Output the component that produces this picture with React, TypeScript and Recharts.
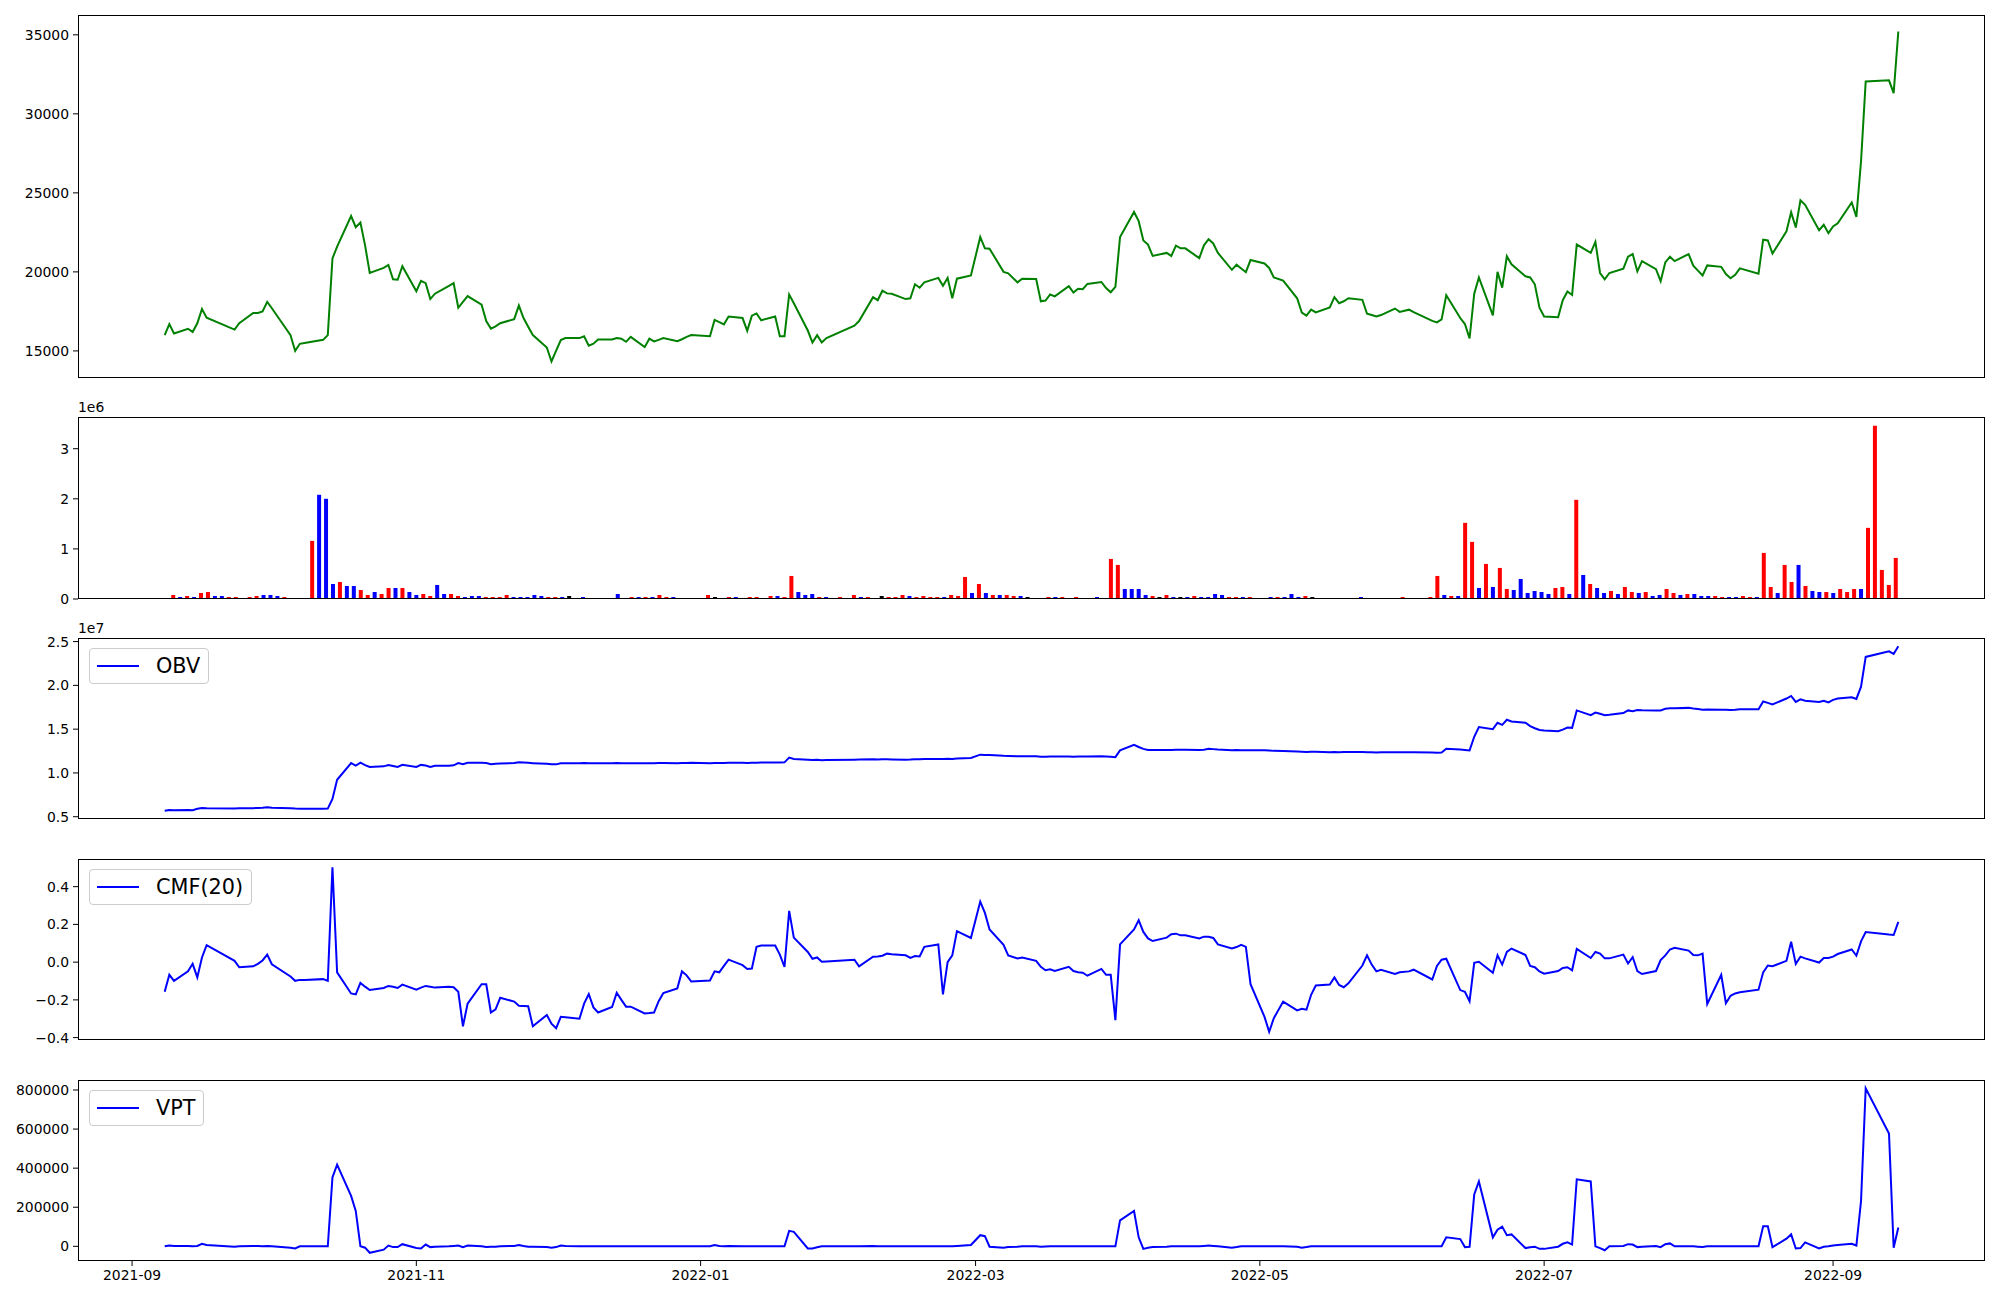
import React from 'react';
import { LineChart, Line, BarChart, Bar, Cell, XAxis, YAxis } from 'recharts';

const FONT = '"DejaVu Sans", Verdana, sans-serif';

// trading days per month
const tradingDays: [string, number[]][] = [
  ['2021-09', [8, 9, 10, 13, 14, 15, 16, 17, 23, 24, 27, 28, 29, 30]],
  ['2021-10', [1, 5, 6, 7, 8, 12, 13, 14, 15, 18, 19, 20, 21, 22, 25, 26, 27, 28, 29]],
  ['2021-11', [1, 2, 3, 4, 5, 8, 9, 10, 11, 12, 15, 16, 17, 18, 19, 22, 23, 24, 25, 26, 29, 30]],
  ['2021-12', [1, 2, 3, 6, 7, 8, 9, 10, 13, 14, 15, 16, 17, 20, 21, 22, 23, 24, 27, 28, 29, 30]],
  ['2022-01', [3, 4, 5, 6, 7, 10, 11, 12, 13, 14, 17, 18, 19, 20, 21, 24, 25, 26, 27, 28]],
  ['2022-02', [3, 4, 7, 8, 9, 10, 11, 14, 15, 16, 17, 18, 21, 22, 23, 24, 25, 28]],
  ['2022-03', [2, 3, 4, 7, 8, 10, 11, 14, 15, 16, 17, 18, 21, 22, 23, 24, 25, 28, 29, 30, 31]],
  ['2022-04', [1, 4, 5, 6, 7, 8, 11, 12, 13, 14, 15, 18, 19, 20, 21, 22, 25, 26, 27, 28, 29]],
  ['2022-05', [2, 3, 4, 6, 9, 10, 11, 12, 13, 16, 17, 18, 19, 20, 23, 24, 25, 26, 27, 30, 31]],
  ['2022-06', [2, 3, 7, 8, 9, 10, 13, 14, 15, 16, 17, 20, 21, 22, 23, 24, 27, 28, 29, 30]],
  ['2022-07', [1, 4, 5, 6, 7, 8, 11, 12, 13, 14, 15, 18, 19, 20, 21, 22, 25, 26, 27, 28, 29]],
  ['2022-08', [1, 2, 3, 4, 5, 8, 9, 10, 11, 12, 16, 17, 18, 19, 22, 23, 24, 25, 26, 29, 30, 31]],
  ['2022-09', [1, 2, 5, 6, 7, 8, 13, 14, 15]],
];

const dates = tradingDays.flatMap(([m, days]) => days.map((d) => `${m}-${String(d).padStart(2, '0')}`));

const close = [
  16000, 16700, 16100, 16400, 16200, 16750, 17650, 17100, 16350, 16750, 17400, 17400, 17500, 18100,
  17700, 16000, 15000, 15450, 15500, 15700, 16000, 20850, 21600, 23530, 22830, 23120, 21680, 19930, 20250, 20440, 19530, 19500, 20360,
  18780, 19430, 19290, 18280, 18620, 19120, 19290, 17730, 18100, 18470, 17920, 16890, 16410, 16550, 16750, 17010, 17870, 17080, 16530, 16000, 15215, 14330,
  15020, 15690, 15810, 15810, 15930, 15335, 15455, 15720, 15720, 15810, 15770, 15575, 15885, 15240, 15770, 15600, 15700, 15810, 15620, 15740, 15890, 16000,
  15930, 16960, 16820, 16680, 17180, 17080, 16270, 17230, 17370, 16940, 17180, 15930, 15930, 18570, 18020, 16290, 15530, 16000, 15530, 15810,
  16600, 16890, 18400, 18210, 18810, 18640, 18620, 18280, 18330, 19215, 19000, 19335, 19620, 19120, 19620, 18330, 19570, 19770,
  22210, 21490, 21470, 20000, 19910, 19335, 19570, 19550, 18140, 18190, 18570, 18450, 19100, 18690, 18930, 18900, 19240, 19360, 18980, 18710, 19050,
  22210, 23790, 23210, 21990, 21730, 21010, 21200, 21010, 21660, 21490, 21490, 20870, 21680, 22070, 21800, 21200, 20130, 20460, 20220, 19980, 20750,
  20530, 20250, 19650, 19450, 18330, 17420, 17230, 17610, 17440, 17750, 18400, 18020, 18140, 18330, 18230, 17350, 17270, 17180, 17270, 17680, 17470,
  17610, 17450, 16900, 16800, 16990, 18520, 17080, 16700, 15790, 18620, 19650, 17250, 20000, 19000, 20990, 20480, 19720, 19650, 19215, 17730,
  17180, 17130, 18210, 18760, 18540, 21730, 21200, 21900, 19930, 19530, 19930, 20200, 20960, 21130, 20030, 20680, 20170, 19410, 20600, 20960, 20680,
  21130, 20390, 20080, 19770, 20410, 20320, 19860, 19600, 19810, 20220, 19890, 22040, 21990, 21160, 22570, 23770, 22810, 24530, 24240, 22640, 22980, 22450,
  22880, 23070, 24390, 23480, 27000, 32050, 32120, 31310, 35210,
];

// volume in millions of shares
const volumeM = [
  0.02, 0.08, 0.04, 0.06, 0.04, 0.12, 0.14, 0.06, 0.06, 0.04, 0.04, 0.02, 0.04, 0.06,
  0.08, 0.08, 0.06, 0.04, 0.02, 0.02, 0.02, 1.16, 2.08, 2.0, 0.3, 0.34, 0.26, 0.26, 0.18, 0.08, 0.14, 0.1, 0.22,
  0.22, 0.22, 0.14, 0.08, 0.1, 0.06, 0.28, 0.1, 0.1, 0.06, 0.04, 0.06, 0.06, 0.04, 0.04, 0.04, 0.08, 0.04, 0.04, 0.04, 0.08, 0.06,
  0.04, 0.04, 0.04, 0.06, 0.02, 0.04, 0.02, 0.02, 0.02, 0.02, 0.1, 0.02, 0.04, 0.04, 0.04, 0.04, 0.08, 0.04, 0.04, 0.02, 0.02, 0.02,
  0.02, 0.08, 0.04, 0.02, 0.04, 0.04, 0.02, 0.04, 0.04, 0.02, 0.06, 0.06, 0.04, 0.46, 0.14, 0.08, 0.1, 0.04, 0.04, 0.02,
  0.04, 0.02, 0.08, 0.04, 0.04, 0.02, 0.06, 0.04, 0.04, 0.08, 0.06, 0.04, 0.06, 0.04, 0.04, 0.04, 0.08, 0.06,
  0.44, 0.12, 0.3, 0.12, 0.08, 0.08, 0.08, 0.06, 0.06, 0.04, 0.02, 0.02, 0.04, 0.04, 0.04, 0.02, 0.04, 0.02, 0.02, 0.04, 0.02,
  0.8, 0.68, 0.2, 0.2, 0.2, 0.08, 0.06, 0.04, 0.08, 0.04, 0.04, 0.04, 0.06, 0.04, 0.04, 0.1, 0.08, 0.04, 0.04, 0.04, 0.04,
  0.02, 0.02, 0.04, 0.04, 0.04, 0.1, 0.04, 0.06, 0.04, 0.02, 0.02, 0.02, 0.02, 0.02, 0.02, 0.04, 0.02, 0.02, 0.02, 0.02, 0.02,
  0.04, 0.02, 0.02, 0.02, 0.04, 0.46, 0.08, 0.06, 0.06, 1.52, 1.14, 0.22, 0.7, 0.24, 0.62, 0.2, 0.18, 0.4, 0.12, 0.16,
  0.14, 0.1, 0.22, 0.24, 0.1, 1.98, 0.48, 0.3, 0.22, 0.12, 0.16, 0.1, 0.24, 0.14, 0.12, 0.14, 0.06, 0.08, 0.2, 0.12, 0.08,
  0.1, 0.1, 0.06, 0.06, 0.06, 0.04, 0.04, 0.04, 0.06, 0.04, 0.04, 0.92, 0.24, 0.12, 0.68, 0.34, 0.68, 0.26, 0.16, 0.14, 0.14, 0.12,
  0.2, 0.14, 0.2, 0.2, 1.42, 3.46, 0.58, 0.28, 0.82,
];

// bar colour per day: r = up candle, b = down candle, k = unchanged
const barColorCodes = [
  'rrbrbrrbbrrrrr',
  'bbbrrrrrbbbrbbrrbrr',
  'brbbrrbbrrbbbrrrrbbbbb',
  'rrbkrbkrkrbbrbrbrrbbrk',
  'brkrrbbrrbrbrrbbbrbr',
  'rrrbrbkrrrbrrrrbrr',
  'rbrbrbrrbkrbrbrbrkbbr',
  'rrbbbbrkrbkbrbbbbrrbr',
  'bbbrbbbrkrrbrrbbbrrrb',
  'rbbbrrbrbrrbrbrrbbbb',
  'bbrrbrbrbbrbrrbrbbrrb',
  'rbbbrrbbrrbrrbrrbrbbrb',
  'rrrbrrrrr',
].join('');

// OBV in units of 1e7
const obv = [
  0.568, 0.578, 0.575, 0.578, 0.575, 0.59, 0.6, 0.597, 0.593, 0.596, 0.598, 0.6, 0.602, 0.607,
  0.603, 0.597, 0.593, 0.592, 0.592, 0.592, 0.593, 0.704, 0.922, 1.112, 1.083, 1.117, 1.09, 1.068, 1.075, 1.09, 1.08, 1.068, 1.092,
  1.068, 1.092, 1.085, 1.068, 1.082, 1.083, 1.087, 1.112, 1.1, 1.117, 1.115, 1.113, 1.1, 1.105, 1.108, 1.113, 1.121, 1.118, 1.115, 1.112, 1.105, 1.1,
  1.098, 1.11, 1.112, 1.112, 1.113, 1.11, 1.111, 1.112, 1.112, 1.113, 1.112, 1.111, 1.112, 1.111, 1.112, 1.112, 1.113, 1.113, 1.112, 1.113, 1.114, 1.115,
  1.112, 1.113, 1.113, 1.114, 1.116, 1.115, 1.113, 1.116, 1.117, 1.118, 1.12, 1.12, 1.121, 1.175, 1.16, 1.152, 1.148, 1.15, 1.146, 1.148,
  1.152, 1.153, 1.155, 1.154, 1.156, 1.155, 1.154, 1.152, 1.153, 1.157, 1.156, 1.158, 1.16, 1.159, 1.161, 1.16, 1.165, 1.17,
  1.209, 1.205, 1.204, 1.195, 1.194, 1.19, 1.192, 1.19, 1.186, 1.186, 1.188, 1.187, 1.189, 1.186, 1.188, 1.187, 1.189, 1.19, 1.188, 1.185, 1.18,
  1.257, 1.32, 1.296, 1.275, 1.262, 1.262, 1.263, 1.262, 1.266, 1.264, 1.264, 1.262, 1.266, 1.277, 1.272, 1.268, 1.26, 1.262, 1.26, 1.258, 1.26,
  1.258, 1.256, 1.252, 1.25, 1.246, 1.243, 1.24, 1.242, 1.243, 1.236, 1.238, 1.237, 1.238, 1.239, 1.238, 1.236, 1.235, 1.234, 1.235, 1.236, 1.235,
  1.236, 1.235, 1.233, 1.232, 1.233, 1.277, 1.267, 1.262, 1.257, 1.413, 1.524, 1.5, 1.573, 1.549, 1.607, 1.587, 1.573, 1.534, 1.51, 1.49,
  1.485, 1.476, 1.495, 1.519, 1.515, 1.714, 1.66, 1.689, 1.675, 1.66, 1.665, 1.684, 1.714, 1.705, 1.718, 1.715, 1.714, 1.714, 1.733, 1.738, 1.738,
  1.743, 1.735, 1.73, 1.723, 1.725, 1.723, 1.722, 1.72, 1.722, 1.728, 1.728, 1.816, 1.8, 1.782, 1.85, 1.879, 1.811, 1.84, 1.825, 1.811, 1.825, 1.806,
  1.835, 1.85, 1.864, 1.845, 1.985, 2.325, 2.388, 2.359, 2.447,
];

const cmf20 = [
  -0.157, -0.067, -0.099, -0.049, -0.009, -0.081, 0.025, 0.09, 0.007, -0.027, -0.022, -0.009, 0.009, 0.04,
  -0.011, -0.076, -0.099, -0.094, -0.094, -0.09, -0.099, 0.503, -0.054, -0.166, -0.171, -0.11, -0.13, -0.148, -0.137, -0.126, -0.13, -0.137, -0.119,
  -0.146, -0.135, -0.126, -0.13, -0.135, -0.13, -0.133, -0.157, -0.34, -0.22, -0.117, -0.117, -0.267, -0.25, -0.189, -0.209, -0.231, -0.232, -0.234, -0.34, -0.28, -0.326,
  -0.35, -0.29, -0.292, -0.3, -0.22, -0.169, -0.24, -0.267, -0.238, -0.162, -0.2, -0.236, -0.236, -0.272, -0.27, -0.267, -0.207, -0.164, -0.139, -0.049, -0.07, -0.103,
  -0.097, -0.049, -0.054, -0.02, 0.013, -0.016, -0.036, -0.034, 0.081, 0.088, 0.088, 0.04, -0.025, 0.272, 0.13, 0.054, 0.018, 0.025, 0.002, 0.004,
  0.013, -0.022, 0.029, 0.03, 0.034, 0.045, 0.042, 0.036, 0.022, 0.032, 0.03, 0.081, 0.094, -0.171, 0.0, 0.036, 0.164, 0.128,
  0.321, 0.261, 0.173, 0.092, 0.036, 0.02, 0.025, 0.007, -0.025, -0.043, -0.038, -0.047, -0.025, -0.047, -0.054, -0.056, -0.072, -0.036, -0.067, -0.067, -0.308,
  0.094, 0.173, 0.222, 0.16, 0.126, 0.112, 0.13, 0.148, 0.151, 0.142, 0.142, 0.126, 0.135, 0.135, 0.128, 0.094, 0.072, 0.08, 0.092, 0.081, -0.117,
  -0.29, -0.369, -0.297, -0.209, -0.256, -0.247, -0.252, -0.173, -0.124, -0.119, -0.081, -0.121, -0.133, -0.112, -0.018, 0.036, -0.013, -0.049, -0.04, -0.063, -0.054,
  -0.049, -0.04, -0.092, -0.02, 0.013, 0.018, -0.148, -0.157, -0.207, -0.004, 0.002, -0.056, 0.036, -0.013, 0.054, 0.072, 0.038, -0.02, -0.027, -0.049,
  -0.061, -0.047, -0.031, -0.027, -0.043, 0.07, 0.022, 0.054, 0.045, 0.02, 0.02, 0.04, -0.007, 0.027, -0.047, -0.063, -0.047, 0.011, 0.036, 0.067, 0.076,
  0.061, 0.038, 0.036, 0.045, -0.222, -0.067, -0.218, -0.178, -0.166, -0.16, -0.146, -0.054, -0.018, -0.022, 0.007, 0.108, -0.009, 0.029, 0.02, -0.002, 0.022, 0.022,
  0.029, 0.043, 0.067, 0.034, 0.11, 0.16, 0.146, 0.144, 0.213,
];

const vpt = [
  0, 4000, 2000, 2000, 0, 2000, 13000, 7000, -2000, 0, 2000, 2000, 0, 2000,
  0, -7000, -11000, 0, 0, 0, 0, 352000, 418000, 258000, 181000, 0, -7000, -33000, -17000, 4000, -4000, -4000, 11000,
  -9000, -11000, 9000, -4000, -2000, 0, 2000, 4000, -4000, 4000, 0, -4000, -2000, -2000, 0, 2000, 7000, 2000, -2000, -2000, -4000, -7000,
  -4000, 4000, 2000, 1000, 1000, 0, 1000, 1000, 0, 1000, 1000, 0, 1000, 0, 1000, 1000, 0, 1000, 1000, 1000, 0, 1000,
  0, 7000, 2000, 0, 2000, 1000, 0, 1000, 0, 1000, 1000, 0, 0, 79000, 74000, -11000, -11000, -5000, 0, 0,
  1000, 0, 2000, 1000, 1000, 0, 0, 0, 1000, 1000, 0, 1000, 1000, 0, 1000, 0, 2000, 7000,
  57000, 52000, -2000, -7000, -4000, -2000, 0, 0, -2000, -1000, 0, 0, 1000, 0, 0, 1000, 0, 0, 0, 0, 0,
  133000, 181000, 46000, -13000, -7000, -4000, -2000, 0, 0, 1000, 0, 0, 2000, 4000, 2000, 0, -7000, -4000, 0, 0, 0,
  0, 0, 0, 0, -2000, -7000, -4000, 0, 0, 0, 0, 0, 0, 0, 0, 0, 0, 0, 0, 0, 0,
  0, 0, 0, 0, 0, 46000, 37000, -4000, -2000, 265000, 332000, 46000, 85000, 101000, 57000, 61000, -9000, -5000, -2000, -13000,
  -13000, -2000, 13000, 20000, 9000, 343000, 332000, 0, -9000, -20000, 0, 2000, 11000, 9000, -4000, -2000, 2000, -4000, 11000, 15000, 0,
  0, 0, -2000, -4000, 0, 0, 0, 0, 0, 0, 0, 103000, 103000, -4000, 39000, 61000, -11000, -9000, 20000, -11000, -2000, 0,
  4000, 7000, 13000, 4000, 232000, 809000, 577000, -7000, 96000,
];

const monthTicks = ['2021-09-01', '2021-11-01', '2022-01-01', '2022-03-01', '2022-05-01', '2022-07-01', '2022-09-01'];

const BAR_COLORS: Record<string, string> = { r: '#ff0000', b: '#0000ff', k: '#000000' };

const rows = dates.map((d, i) => ({
  t: Date.parse(d),
  close: close[i],
  obv: obv[i],
  cmf: cmf20[i],
  vpt: vpt[i],
}));

const volRows = volumeM.map((v, i) => ({ i, v, c: barColorCodes[i] }));

// matplotlib style 5% margins
const padded = (lo: number, hi: number): [number, number] => {
  const p = (hi - lo) * 0.05;
  return [lo - p, hi + p];
};

const tDomain = padded(rows[0].t, rows[rows.length - 1].t);
const iDomain = padded(-0.3, volRows.length - 1 + 0.3);

const PLOT_L = 78;
const PLOT_R = 1985;
const W = 2000;
const PAD = 12; // room above/below each plot so edge tick labels are not clipped

const tickStyle = { fill: '#000', fontSize: 13.9, fontFamily: FONT };
const minus = (s: string) => s.replace('-', '\u2212');

const Frame: React.FC<{ top: number; h: number }> = ({ top, h }) => (
  <div
    style={{
      position: 'absolute',
      left: PLOT_L,
      top,
      width: PLOT_R - PLOT_L,
      height: h,
      border: '1px solid #000',
      boxSizing: 'border-box',
      pointerEvents: 'none',
    }}
  />
);

const LegendBox: React.FC<{ top: number; label: string }> = ({ top, label }) => (
  <div
    style={{
      position: 'absolute',
      left: 89,
      top: top + 10,
      height: 36,
      padding: '0 8px 0 7px',
      display: 'flex',
      alignItems: 'center',
      border: '1px solid #cccccc',
      borderRadius: 4,
      background: 'rgba(255,255,255,0.8)',
      boxSizing: 'border-box',
      fontFamily: FONT,
      fontSize: 20.8,
    }}
  >
    <div style={{ width: 42, height: 2, background: '#0000ff', marginRight: 17 }} />
    <span>{label}</span>
  </div>
);

const Offset: React.FC<{ top: number; text: string }> = ({ top, text }) => (
  <div style={{ position: 'absolute', left: PLOT_L, top: top - 18, fontFamily: FONT, fontSize: 13.9, lineHeight: '16px' }}>
    {text}
  </div>
);

interface LinePanelProps {
  top: number;
  h: number;
  dataKey: string;
  color: string;
  domain: [number, number];
  ticks: number[];
  fmt: (v: number) => string;
  showX?: boolean;
}

const LinePanel: React.FC<LinePanelProps> = ({ top, h, dataKey, color, domain, ticks, fmt, showX }) => (
  <div style={{ position: 'absolute', left: 0, top: top - PAD }}>
    <LineChart
      width={W}
      height={h + PAD + (showX ? 32 : PAD)}
      data={rows}
      margin={{ top: PAD, right: W - PLOT_R, bottom: showX ? 0 : PAD, left: 0 }}
    >
      <XAxis
        type="number"
        dataKey="t"
        domain={tDomain}
        allowDataOverflow
        ticks={monthTicks.map((d) => Date.parse(d))}
        interval={0}
        tickFormatter={(t: number) => new Date(t).toISOString().slice(0, 7)}
        hide={!showX}
        height={32}
        axisLine={false}
        tickLine={{ stroke: '#000' }}
        tickSize={5}
        tickMargin={4}
        tick={tickStyle}
      />
      <YAxis
        type="number"
        width={PLOT_L}
        domain={domain}
        allowDataOverflow
        ticks={ticks}
        interval={0}
        tickFormatter={fmt}
        axisLine={false}
        tickLine={{ stroke: '#000' }}
        tickSize={5}
        tickMargin={4}
        tick={tickStyle}
      />
      <Line type="linear" dataKey={dataKey} stroke={color} strokeWidth={2} dot={false} isAnimationActive={false} />
    </LineChart>
  </div>
);

const minOf = (a: number[]) => Math.min(...a);
const maxOf = (a: number[]) => Math.max(...a);

export default function App() {
  const volMax = maxOf(volumeM) * 1.05;
  return (
    <div style={{ position: 'absolute', left: 0, top: 0, width: 2000, height: 1300, background: '#fff', fontFamily: FONT }}>
      <LinePanel
        top={15}
        h={363}
        dataKey="close"
        color="#008000"
        domain={padded(minOf(close), maxOf(close))}
        ticks={[15000, 20000, 25000, 30000, 35000]}
        fmt={(v) => String(v)}
      />
      <Frame top={15} h={363} />

      <div style={{ position: 'absolute', left: 0, top: 417 - PAD }}>
        <BarChart
          width={W}
          height={182 + 2 * PAD}
          data={volRows}
          margin={{ top: PAD, right: W - PLOT_R, bottom: PAD, left: 0 }}
        >
          <XAxis type="number" dataKey="i" domain={iDomain} allowDataOverflow hide />
          <YAxis
            type="number"
            width={PLOT_L}
            domain={[0, volMax]}
            allowDataOverflow
            ticks={[0, 1, 2, 3]}
            interval={0}
            axisLine={false}
            tickLine={{ stroke: '#000' }}
            tickSize={5}
            tickMargin={4}
            tick={tickStyle}
          />
          <Bar dataKey="v" barSize={4} isAnimationActive={false}>
            {volRows.map((r) => (
              <Cell key={r.i} fill={BAR_COLORS[r.c]} />
            ))}
          </Bar>
        </BarChart>
      </div>
      <Frame top={417} h={182} />
      <Offset top={417} text="1e6" />

      <LinePanel
        top={638}
        h={181}
        dataKey="obv"
        color="#0000ff"
        domain={padded(minOf(obv), maxOf(obv))}
        ticks={[0.5, 1.0, 1.5, 2.0, 2.5]}
        fmt={(v) => v.toFixed(1)}
      />
      <Frame top={638} h={181} />
      <Offset top={638} text="1e7" />
      <LegendBox top={638} label="OBV" />

      <LinePanel
        top={859}
        h={181}
        dataKey="cmf"
        color="#0000ff"
        domain={padded(minOf(cmf20), maxOf(cmf20))}
        ticks={[-0.4, -0.2, 0, 0.2, 0.4]}
        fmt={(v) => minus(v.toFixed(1))}
      />
      <Frame top={859} h={181} />
      <LegendBox top={859} label="CMF(20)" />

      <LinePanel
        top={1080}
        h={181}
        dataKey="vpt"
        color="#0000ff"
        domain={padded(minOf(vpt), maxOf(vpt))}
        ticks={[0, 200000, 400000, 600000, 800000]}
        fmt={(v) => String(v)}
        showX
      />
      <Frame top={1080} h={181} />
      <LegendBox top={1080} label="VPT" />
    </div>
  );
}
